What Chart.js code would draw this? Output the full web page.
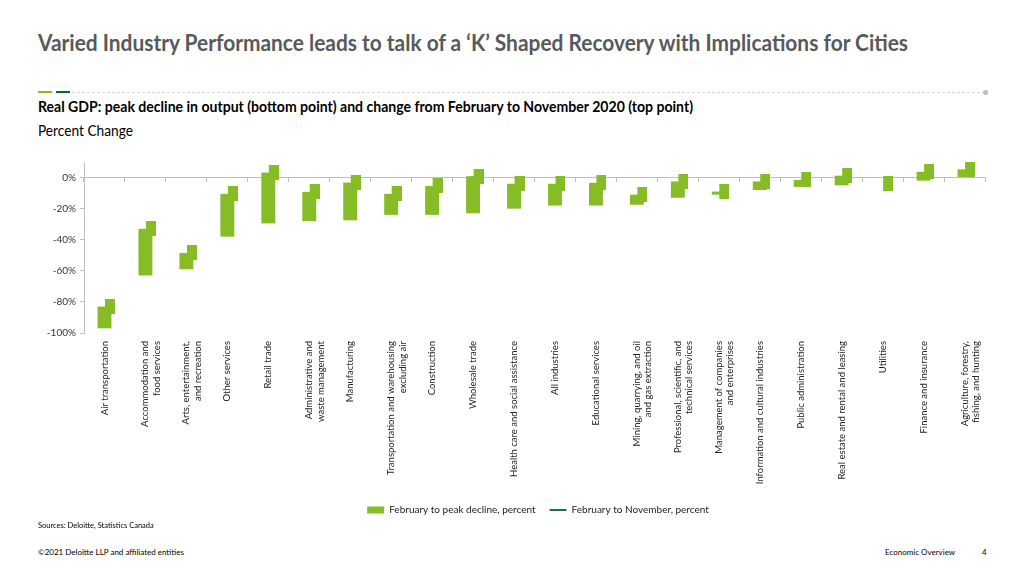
<!DOCTYPE html>
<html>
<head>
<meta charset="utf-8">
<script src="https://cdn.jsdelivr.net/npm/chart.js@4.4.1/dist/chart.umd.min.js"></script>
<style>
body{margin:0;width:1024px;height:575px;background:#fff;font-family:Lato,sans-serif;position:relative;overflow:hidden}
.t{position:absolute;white-space:nowrap;line-height:1;transform-origin:0 0}
#title{left:38px;top:32px;font-size:22px;font-weight:bold;color:#58595b}
#sub{left:38px;top:100px;font-size:14.5px;font-weight:bold;color:#000}
#unit{left:38px;top:124px;font-size:14.5px;color:#000}
#src{left:38px;top:522px;font-size:7.5px;color:#000}
#copy{left:38px;top:548px;font-size:8px;color:#000}
#eco{left:885px;top:548px;font-size:8px;color:#000}
#page{left:982px;top:548px;font-size:8px;color:#000}
.rule{position:absolute;height:2px;top:91px}
#dots{position:absolute;left:72px;width:913px;top:92px;border-top:1px dashed #d6d6d6}
#dot{position:absolute;left:983px;top:90px;width:5px;height:5px;border-radius:50%;background:#bdbdbd}
#box{position:absolute;left:30px;top:150px;width:1002px;height:375px}
</style>
</head>
<body>
<div class="t" id="title">Varied Industry Performance leads to talk of a ‘K’ Shaped Recovery with Implications for Cities</div>
<div class="rule" style="left:38px;width:14px;background:#86BC25"></div>
<div class="rule" style="left:56px;width:14px;background:#046A38"></div>
<div id="dots"></div>
<div id="dot"></div>
<div class="t" id="sub">Real GDP: peak decline in output (bottom point) and change from February to November 2020 (top point)</div>
<div class="t" id="unit">Percent Change</div>
<div id="box"><canvas id="myChart"></canvas></div>
<div class="t" id="src">Sources: Deloitte, Statistics Canada</div>
<div class="t" id="copy">©2021 Deloitte LLP and affiliated entities</div>
<div class="t" id="eco">Economic Overview</div>
<div class="t" id="page">4</div>
<script>
'use strict';
let industries = [
    'Air transportation',
    ['Accommodation and', 'food services'],
    ['Arts, entertainment,', 'and recreation'],
    'Other services',
    'Retail trade',
    ['Administrative and', 'waste management'],
    'Manufacturing',
    ['Transportation and warehousing', 'excluding air'],
    'Construction',
    'Wholesale trade',
    'Health care and social assistance',
    'All industries',
    'Educational services',
    ['Mining, quarrying, and oil', 'and gas extraction'],
    ['Professional, scientific, and', 'technical services'],
    ['Management of companies', 'and enterprises'],
    'Information and cultural industries',
    'Public administration',
    'Real estate and rental and leasing',
    'Utilities',
    'Finance and insurance',
    ['Agriculture, forestry,', 'fishing, and hunting']
];
// bottom point: Feb to peak decline
let peakDecline = [-97, -63, -59, -38, -29.5, -28, -27.5, -24, -24, -23, -20, -18, -18, -17.5, -13, -11, -8, -6, -5, -4, -2, 0];
// top point: Feb to Nov 2020
let febToNov = [-83, -33, -48.5, -10.5, 3.2, -9.2, -3.2, -10.5, -5.4, 0.9, -4, -4, -3.4, -11, -2.5, -9, -2.5, -1.5, 1.2, -4, 3.7, 5.3];
let yTicks = [-100, -80, -60, -40, -20, 0];

let green = '#86BC25';
let darkGreen = '#1f6b5a';
let axisGrey = '#bfbfbf';

function fitWidth(id, w) {
    let el = document.getElementById(id);
    let r = el.getBoundingClientRect().width;
    el.style.transform = 'scaleX(' + (w / r) + ')';
}
fitWidth('title', 870);
fitWidth('sub', 655);
fitWidth('unit', 95);

// the Nov marker: a small block drawn just right of the bar
let markerImg = document.createElement('canvas');
markerImg.width = 21;
markerImg.height = 15;
let mctx = markerImg.getContext('2d');
mctx.fillStyle = green;
mctx.fillRect(11, 0, 10, 15);

let ranges = [];
for (let i = 0; i < industries.length; i++) {
    ranges.push([peakDecline[i], febToNov[i]]);
}

let ctx = document.getElementById('myChart').getContext('2d');
let myChart = new Chart(ctx, {
    type: 'bar',
    data: {
        labels: industries,
        datasets: [{
            label: 'February to peak decline, percent',
            data: ranges,
            backgroundColor: green,
            borderWidth: 0,
            barPercentage: 0.34,
            categoryPercentage: 1,
            grouped: false,
            order: 2
        }, {
            type: 'line',
            label: 'February to November, percent',
            data: febToNov,
            showLine: false,
            pointStyle: markerImg,
            pointRadius: 8,
            borderColor: darkGreen,
            backgroundColor: green,
            borderWidth: 2,
            order: 1
        }]
    },
    options: {
        responsive: true,
        maintainAspectRatio: false,
        animation: false,
        layout: { padding: { left: 14, right: 0, top: 12, bottom: 0 } },
        scales: {
            x: {
                position: { y: 0 },
                offset: true,
                grid: { offset: true, drawOnChartArea: false, tickLength: 4, color: axisGrey },
                border: { color: axisGrey },
                ticks: { display: false },
                afterFit: function (s) { s.height = 0; }
            },
            x2: {
                type: 'category',
                position: 'bottom',
                offset: true,
                grid: { display: false },
                border: { display: false },
                ticks: {
                    autoSkip: false,
                    maxRotation: 90,
                    minRotation: 90,
                    padding: 0,
                    color: '#222',
                    font: { family: 'Lato', size: 9.5 }
                },
                afterFit: function (s) { s.height = 158; }
            },
            y: {
                min: -100,
                max: 10,
                afterBuildTicks: function (s) {
                    s.ticks = yTicks.map(v => ({ value: v }));
                },
                afterFit: function (s) { s.width = 40; },
                grid: { drawOnChartArea: false, tickLength: 4, color: axisGrey },
                border: { color: axisGrey },
                ticks: {
                    padding: 4,
                    color: '#333',
                    font: { family: 'Lato', size: 10 },
                    callback: v => v + '%'
                }
            },
            // empty right-hand space so the legend sits where the original has it
            spacer: {
                type: 'linear',
                position: 'right',
                grid: { display: false },
                border: { display: false },
                ticks: { display: false },
                afterFit: function (s) { s.width = 47; }
            }
        },
        plugins: {
            tooltip: { enabled: false },
            legend: {
                position: 'bottom',
                labels: {
                    usePointStyle: true,
                    pointStyleWidth: 17,
                    boxHeight: 7,
                    padding: 14,
                    color: '#222',
                    font: { family: 'Lato', size: 10 },
                    generateLabels: function (chart) {
                        let items = Chart.defaults.plugins.legend.labels.generateLabels(chart);
                        items.sort((a, b) => a.datasetIndex - b.datasetIndex);
                        items.forEach(function (item) {
                            if (item.datasetIndex === 0) {
                                item.pointStyle = 'rect';
                                item.lineWidth = 0;
                            } else {
                                item.pointStyle = 'line';
                                item.strokeStyle = darkGreen;
                                item.lineWidth = 2;
                            }
                        });
                        return items;
                    }
                }
            }
        }
    }
});
</script>
</body>
</html>
